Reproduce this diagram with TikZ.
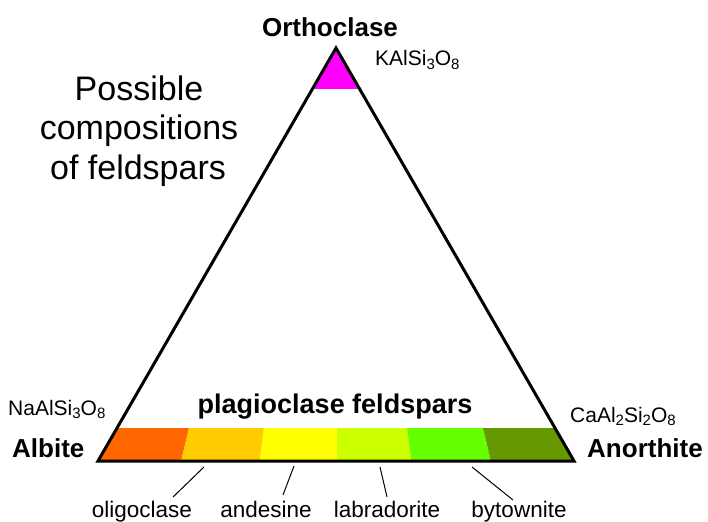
\documentclass[tikz,border=0pt]{standalone}
\usepackage{fontspec}
\setmainfont{Liberation Sans}
\definecolor{capmag}{HTML}{FF00FF}
\definecolor{cA}{HTML}{FF6600}
\definecolor{cB}{HTML}{FFCC00}
\definecolor{cC}{HTML}{FFFF00}
\definecolor{cD}{HTML}{CCFF00}
\definecolor{cE}{HTML}{66FF00}
\definecolor{cF}{HTML}{669900}
\newcommand{\lowsub}[1]{\raisebox{-0.3ex}{\fontsize{15}{15}\selectfont #1}}
\begin{document}
\begin{tikzpicture}[x=1pt,y=-1pt,
  edge/.style={line width=3pt, line join=miter},
  lbl/.style={inner sep=0pt, anchor=base},
  namebold/.style={lbl, font=\bfseries\fontsize{26}{30}\selectfont},
  formula/.style={lbl, anchor=base west, font=\fontsize{21}{24}\selectfont},
  titletext/.style={lbl, font=\fontsize{34}{40}\selectfont},
  variety/.style={lbl, font=\fontsize{22.5}{26}\selectfont},
  leader/.style={line width=1pt}]
\useasboundingbox (0,0) rectangle (708,521);
\coordinate (A) at (98,461);
\coordinate (B) at (574,461);
\coordinate (C) at (336,48);
\begin{scope}
  \clip (A) -- (B) -- (C) -- cycle;
  \fill[capmag] (300,30) rectangle (372,89);
  \fill[cA] (60,428) -- (189,428) -- (180,466) -- (60,466) -- cycle;
  \fill[cB] (189,428) -- (264,428) -- (259,466) -- (180,466) -- cycle;
  \fill[cC] (264,428) -- (337,428) -- (337,466) -- (259,466) -- cycle;
  \fill[cD] (337,428) -- (407,428) -- (412,466) -- (337,466) -- cycle;
  \fill[cE] (407,428) -- (483,428) -- (492,466) -- (412,466) -- cycle;
  \fill[cF] (483,428) -- (620,428) -- (620,466) -- (492,466) -- cycle;
\end{scope}
\draw[edge] (A) -- (B) -- (C) -- cycle;
% titles
\node[titletext] (t1) at (139,101) {Possible};
\node[titletext] (t2) at (139,140) {compositions};
\node[titletext] (t3) at (138,180) {of feldspars};
% end members
\node[namebold] (orth) at (330,37) {Orthoclase};
\node[formula] (orthf) at (375,66) {KAlSi\lowsub{3}O\lowsub{8}};
\node[namebold, anchor=base west] (alb) at (12,457) {Albite};
\node[formula] (albf) at (8,415) {NaAlSi\lowsub{3}O\lowsub{8}};
\node[namebold, anchor=base west] (ano) at (587,457) {Anorthite};
\node[formula] (anof) at (570,422) {CaAl\lowsub{2}Si\lowsub{2}O\lowsub{8}};
\node[lbl, font=\bfseries\fontsize{27}{30}\selectfont] (plag) at (335,413) {plagioclase feldspars};
% varieties
\node[variety] (olig) at (142,517) {oligoclase};
\node[variety] (ande) at (266,517) {andesine};
\node[variety] (labr) at (387,517) {labradorite};
\node[variety] (byto) at (519,517) {bytownite};
\coordinate (o1) at (204,467); \coordinate (o2) at (173,497);
\coordinate (a1) at (294,466); \coordinate (a2) at (283,495);
\coordinate (l1) at (380,467); \coordinate (l2) at (387,497);
\coordinate (b1) at (472,467); \coordinate (b2) at (513,500);
\draw[leader] (o1) -- (o2);
\draw[leader] (a1) -- (a2);
\draw[leader] (l1) -- (l2);
\draw[leader] (b1) -- (b2);
\end{tikzpicture}
\end{document}
